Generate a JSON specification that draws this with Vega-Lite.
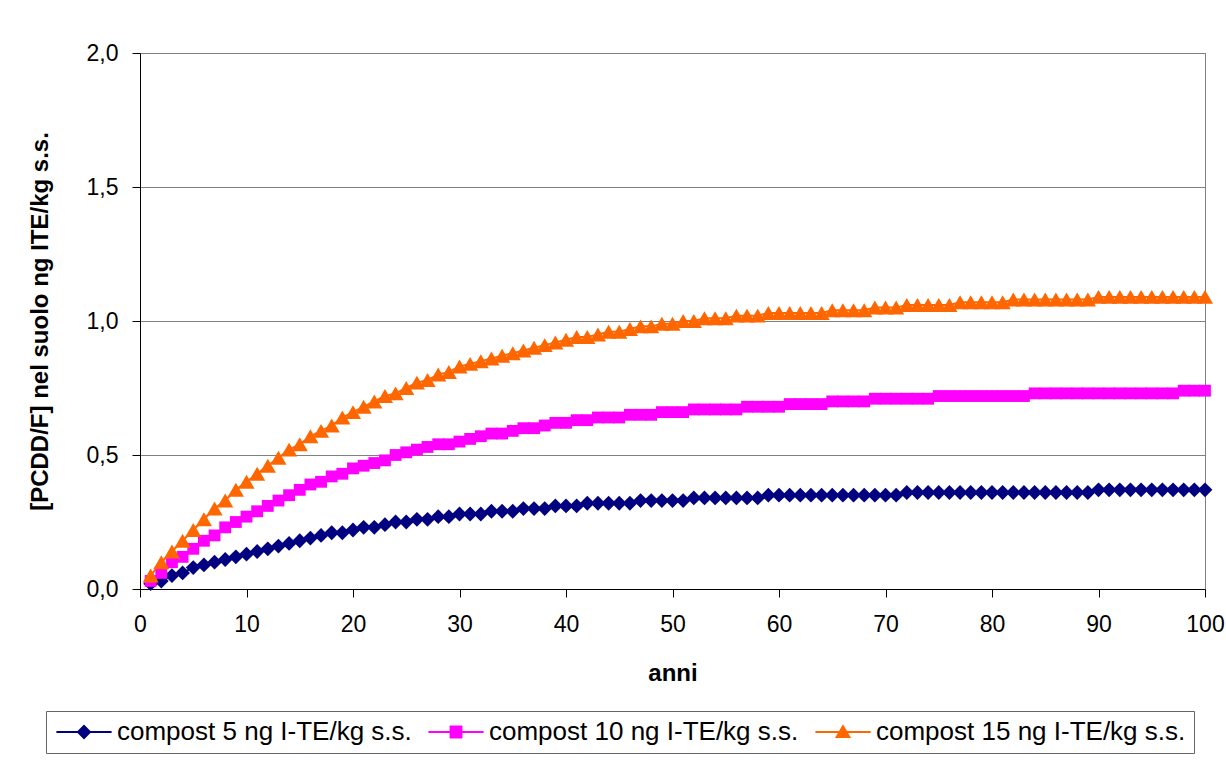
{
  "$schema": "https://vega.github.io/schema/vega-lite/v6.json",
  "width": 1065,
  "height": 536,
  "autosize": {"type": "none"},
  "padding": {"left": 140, "top": 53, "right": 21, "bottom": 171},
  "background": "white",
  "config": {"font": "Liberation Sans", "view": {"stroke": "#808080", "strokeWidth": 1}},
  "data": {"values": [
    {"anni":1,"serie":"compost 5 ng I-TE/kg s.s.","valore":0.02},
    {"anni":2,"serie":"compost 5 ng I-TE/kg s.s.","valore":0.03},
    {"anni":3,"serie":"compost 5 ng I-TE/kg s.s.","valore":0.05},
    {"anni":4,"serie":"compost 5 ng I-TE/kg s.s.","valore":0.06},
    {"anni":5,"serie":"compost 5 ng I-TE/kg s.s.","valore":0.08},
    {"anni":6,"serie":"compost 5 ng I-TE/kg s.s.","valore":0.09},
    {"anni":7,"serie":"compost 5 ng I-TE/kg s.s.","valore":0.10},
    {"anni":8,"serie":"compost 5 ng I-TE/kg s.s.","valore":0.11},
    {"anni":9,"serie":"compost 5 ng I-TE/kg s.s.","valore":0.12},
    {"anni":10,"serie":"compost 5 ng I-TE/kg s.s.","valore":0.13},
    {"anni":11,"serie":"compost 5 ng I-TE/kg s.s.","valore":0.14},
    {"anni":12,"serie":"compost 5 ng I-TE/kg s.s.","valore":0.15},
    {"anni":13,"serie":"compost 5 ng I-TE/kg s.s.","valore":0.16},
    {"anni":14,"serie":"compost 5 ng I-TE/kg s.s.","valore":0.17},
    {"anni":15,"serie":"compost 5 ng I-TE/kg s.s.","valore":0.18},
    {"anni":16,"serie":"compost 5 ng I-TE/kg s.s.","valore":0.19},
    {"anni":17,"serie":"compost 5 ng I-TE/kg s.s.","valore":0.20},
    {"anni":18,"serie":"compost 5 ng I-TE/kg s.s.","valore":0.21},
    {"anni":19,"serie":"compost 5 ng I-TE/kg s.s.","valore":0.21},
    {"anni":20,"serie":"compost 5 ng I-TE/kg s.s.","valore":0.22},
    {"anni":21,"serie":"compost 5 ng I-TE/kg s.s.","valore":0.23},
    {"anni":22,"serie":"compost 5 ng I-TE/kg s.s.","valore":0.23},
    {"anni":23,"serie":"compost 5 ng I-TE/kg s.s.","valore":0.24},
    {"anni":24,"serie":"compost 5 ng I-TE/kg s.s.","valore":0.25},
    {"anni":25,"serie":"compost 5 ng I-TE/kg s.s.","valore":0.25},
    {"anni":26,"serie":"compost 5 ng I-TE/kg s.s.","valore":0.26},
    {"anni":27,"serie":"compost 5 ng I-TE/kg s.s.","valore":0.26},
    {"anni":28,"serie":"compost 5 ng I-TE/kg s.s.","valore":0.27},
    {"anni":29,"serie":"compost 5 ng I-TE/kg s.s.","valore":0.27},
    {"anni":30,"serie":"compost 5 ng I-TE/kg s.s.","valore":0.28},
    {"anni":31,"serie":"compost 5 ng I-TE/kg s.s.","valore":0.28},
    {"anni":32,"serie":"compost 5 ng I-TE/kg s.s.","valore":0.28},
    {"anni":33,"serie":"compost 5 ng I-TE/kg s.s.","valore":0.29},
    {"anni":34,"serie":"compost 5 ng I-TE/kg s.s.","valore":0.29},
    {"anni":35,"serie":"compost 5 ng I-TE/kg s.s.","valore":0.29},
    {"anni":36,"serie":"compost 5 ng I-TE/kg s.s.","valore":0.30},
    {"anni":37,"serie":"compost 5 ng I-TE/kg s.s.","valore":0.30},
    {"anni":38,"serie":"compost 5 ng I-TE/kg s.s.","valore":0.30},
    {"anni":39,"serie":"compost 5 ng I-TE/kg s.s.","valore":0.31},
    {"anni":40,"serie":"compost 5 ng I-TE/kg s.s.","valore":0.31},
    {"anni":41,"serie":"compost 5 ng I-TE/kg s.s.","valore":0.31},
    {"anni":42,"serie":"compost 5 ng I-TE/kg s.s.","valore":0.32},
    {"anni":43,"serie":"compost 5 ng I-TE/kg s.s.","valore":0.32},
    {"anni":44,"serie":"compost 5 ng I-TE/kg s.s.","valore":0.32},
    {"anni":45,"serie":"compost 5 ng I-TE/kg s.s.","valore":0.32},
    {"anni":46,"serie":"compost 5 ng I-TE/kg s.s.","valore":0.32},
    {"anni":47,"serie":"compost 5 ng I-TE/kg s.s.","valore":0.33},
    {"anni":48,"serie":"compost 5 ng I-TE/kg s.s.","valore":0.33},
    {"anni":49,"serie":"compost 5 ng I-TE/kg s.s.","valore":0.33},
    {"anni":50,"serie":"compost 5 ng I-TE/kg s.s.","valore":0.33},
    {"anni":51,"serie":"compost 5 ng I-TE/kg s.s.","valore":0.33},
    {"anni":52,"serie":"compost 5 ng I-TE/kg s.s.","valore":0.34},
    {"anni":53,"serie":"compost 5 ng I-TE/kg s.s.","valore":0.34},
    {"anni":54,"serie":"compost 5 ng I-TE/kg s.s.","valore":0.34},
    {"anni":55,"serie":"compost 5 ng I-TE/kg s.s.","valore":0.34},
    {"anni":56,"serie":"compost 5 ng I-TE/kg s.s.","valore":0.34},
    {"anni":57,"serie":"compost 5 ng I-TE/kg s.s.","valore":0.34},
    {"anni":58,"serie":"compost 5 ng I-TE/kg s.s.","valore":0.34},
    {"anni":59,"serie":"compost 5 ng I-TE/kg s.s.","valore":0.35},
    {"anni":60,"serie":"compost 5 ng I-TE/kg s.s.","valore":0.35},
    {"anni":61,"serie":"compost 5 ng I-TE/kg s.s.","valore":0.35},
    {"anni":62,"serie":"compost 5 ng I-TE/kg s.s.","valore":0.35},
    {"anni":63,"serie":"compost 5 ng I-TE/kg s.s.","valore":0.35},
    {"anni":64,"serie":"compost 5 ng I-TE/kg s.s.","valore":0.35},
    {"anni":65,"serie":"compost 5 ng I-TE/kg s.s.","valore":0.35},
    {"anni":66,"serie":"compost 5 ng I-TE/kg s.s.","valore":0.35},
    {"anni":67,"serie":"compost 5 ng I-TE/kg s.s.","valore":0.35},
    {"anni":68,"serie":"compost 5 ng I-TE/kg s.s.","valore":0.35},
    {"anni":69,"serie":"compost 5 ng I-TE/kg s.s.","valore":0.35},
    {"anni":70,"serie":"compost 5 ng I-TE/kg s.s.","valore":0.35},
    {"anni":71,"serie":"compost 5 ng I-TE/kg s.s.","valore":0.35},
    {"anni":72,"serie":"compost 5 ng I-TE/kg s.s.","valore":0.36},
    {"anni":73,"serie":"compost 5 ng I-TE/kg s.s.","valore":0.36},
    {"anni":74,"serie":"compost 5 ng I-TE/kg s.s.","valore":0.36},
    {"anni":75,"serie":"compost 5 ng I-TE/kg s.s.","valore":0.36},
    {"anni":76,"serie":"compost 5 ng I-TE/kg s.s.","valore":0.36},
    {"anni":77,"serie":"compost 5 ng I-TE/kg s.s.","valore":0.36},
    {"anni":78,"serie":"compost 5 ng I-TE/kg s.s.","valore":0.36},
    {"anni":79,"serie":"compost 5 ng I-TE/kg s.s.","valore":0.36},
    {"anni":80,"serie":"compost 5 ng I-TE/kg s.s.","valore":0.36},
    {"anni":81,"serie":"compost 5 ng I-TE/kg s.s.","valore":0.36},
    {"anni":82,"serie":"compost 5 ng I-TE/kg s.s.","valore":0.36},
    {"anni":83,"serie":"compost 5 ng I-TE/kg s.s.","valore":0.36},
    {"anni":84,"serie":"compost 5 ng I-TE/kg s.s.","valore":0.36},
    {"anni":85,"serie":"compost 5 ng I-TE/kg s.s.","valore":0.36},
    {"anni":86,"serie":"compost 5 ng I-TE/kg s.s.","valore":0.36},
    {"anni":87,"serie":"compost 5 ng I-TE/kg s.s.","valore":0.36},
    {"anni":88,"serie":"compost 5 ng I-TE/kg s.s.","valore":0.36},
    {"anni":89,"serie":"compost 5 ng I-TE/kg s.s.","valore":0.36},
    {"anni":90,"serie":"compost 5 ng I-TE/kg s.s.","valore":0.37},
    {"anni":91,"serie":"compost 5 ng I-TE/kg s.s.","valore":0.37},
    {"anni":92,"serie":"compost 5 ng I-TE/kg s.s.","valore":0.37},
    {"anni":93,"serie":"compost 5 ng I-TE/kg s.s.","valore":0.37},
    {"anni":94,"serie":"compost 5 ng I-TE/kg s.s.","valore":0.37},
    {"anni":95,"serie":"compost 5 ng I-TE/kg s.s.","valore":0.37},
    {"anni":96,"serie":"compost 5 ng I-TE/kg s.s.","valore":0.37},
    {"anni":97,"serie":"compost 5 ng I-TE/kg s.s.","valore":0.37},
    {"anni":98,"serie":"compost 5 ng I-TE/kg s.s.","valore":0.37},
    {"anni":99,"serie":"compost 5 ng I-TE/kg s.s.","valore":0.37},
    {"anni":100,"serie":"compost 5 ng I-TE/kg s.s.","valore":0.37},
    {"anni":1,"serie":"compost 10 ng I-TE/kg s.s.","valore":0.03},
    {"anni":2,"serie":"compost 10 ng I-TE/kg s.s.","valore":0.06},
    {"anni":3,"serie":"compost 10 ng I-TE/kg s.s.","valore":0.10},
    {"anni":4,"serie":"compost 10 ng I-TE/kg s.s.","valore":0.12},
    {"anni":5,"serie":"compost 10 ng I-TE/kg s.s.","valore":0.15},
    {"anni":6,"serie":"compost 10 ng I-TE/kg s.s.","valore":0.18},
    {"anni":7,"serie":"compost 10 ng I-TE/kg s.s.","valore":0.20},
    {"anni":8,"serie":"compost 10 ng I-TE/kg s.s.","valore":0.23},
    {"anni":9,"serie":"compost 10 ng I-TE/kg s.s.","valore":0.25},
    {"anni":10,"serie":"compost 10 ng I-TE/kg s.s.","valore":0.27},
    {"anni":11,"serie":"compost 10 ng I-TE/kg s.s.","valore":0.29},
    {"anni":12,"serie":"compost 10 ng I-TE/kg s.s.","valore":0.31},
    {"anni":13,"serie":"compost 10 ng I-TE/kg s.s.","valore":0.33},
    {"anni":14,"serie":"compost 10 ng I-TE/kg s.s.","valore":0.35},
    {"anni":15,"serie":"compost 10 ng I-TE/kg s.s.","valore":0.37},
    {"anni":16,"serie":"compost 10 ng I-TE/kg s.s.","valore":0.39},
    {"anni":17,"serie":"compost 10 ng I-TE/kg s.s.","valore":0.40},
    {"anni":18,"serie":"compost 10 ng I-TE/kg s.s.","valore":0.42},
    {"anni":19,"serie":"compost 10 ng I-TE/kg s.s.","valore":0.43},
    {"anni":20,"serie":"compost 10 ng I-TE/kg s.s.","valore":0.45},
    {"anni":21,"serie":"compost 10 ng I-TE/kg s.s.","valore":0.46},
    {"anni":22,"serie":"compost 10 ng I-TE/kg s.s.","valore":0.47},
    {"anni":23,"serie":"compost 10 ng I-TE/kg s.s.","valore":0.48},
    {"anni":24,"serie":"compost 10 ng I-TE/kg s.s.","valore":0.50},
    {"anni":25,"serie":"compost 10 ng I-TE/kg s.s.","valore":0.51},
    {"anni":26,"serie":"compost 10 ng I-TE/kg s.s.","valore":0.52},
    {"anni":27,"serie":"compost 10 ng I-TE/kg s.s.","valore":0.53},
    {"anni":28,"serie":"compost 10 ng I-TE/kg s.s.","valore":0.54},
    {"anni":29,"serie":"compost 10 ng I-TE/kg s.s.","valore":0.54},
    {"anni":30,"serie":"compost 10 ng I-TE/kg s.s.","valore":0.55},
    {"anni":31,"serie":"compost 10 ng I-TE/kg s.s.","valore":0.56},
    {"anni":32,"serie":"compost 10 ng I-TE/kg s.s.","valore":0.57},
    {"anni":33,"serie":"compost 10 ng I-TE/kg s.s.","valore":0.58},
    {"anni":34,"serie":"compost 10 ng I-TE/kg s.s.","valore":0.58},
    {"anni":35,"serie":"compost 10 ng I-TE/kg s.s.","valore":0.59},
    {"anni":36,"serie":"compost 10 ng I-TE/kg s.s.","valore":0.60},
    {"anni":37,"serie":"compost 10 ng I-TE/kg s.s.","valore":0.60},
    {"anni":38,"serie":"compost 10 ng I-TE/kg s.s.","valore":0.61},
    {"anni":39,"serie":"compost 10 ng I-TE/kg s.s.","valore":0.62},
    {"anni":40,"serie":"compost 10 ng I-TE/kg s.s.","valore":0.62},
    {"anni":41,"serie":"compost 10 ng I-TE/kg s.s.","valore":0.63},
    {"anni":42,"serie":"compost 10 ng I-TE/kg s.s.","valore":0.63},
    {"anni":43,"serie":"compost 10 ng I-TE/kg s.s.","valore":0.64},
    {"anni":44,"serie":"compost 10 ng I-TE/kg s.s.","valore":0.64},
    {"anni":45,"serie":"compost 10 ng I-TE/kg s.s.","valore":0.64},
    {"anni":46,"serie":"compost 10 ng I-TE/kg s.s.","valore":0.65},
    {"anni":47,"serie":"compost 10 ng I-TE/kg s.s.","valore":0.65},
    {"anni":48,"serie":"compost 10 ng I-TE/kg s.s.","valore":0.65},
    {"anni":49,"serie":"compost 10 ng I-TE/kg s.s.","valore":0.66},
    {"anni":50,"serie":"compost 10 ng I-TE/kg s.s.","valore":0.66},
    {"anni":51,"serie":"compost 10 ng I-TE/kg s.s.","valore":0.66},
    {"anni":52,"serie":"compost 10 ng I-TE/kg s.s.","valore":0.67},
    {"anni":53,"serie":"compost 10 ng I-TE/kg s.s.","valore":0.67},
    {"anni":54,"serie":"compost 10 ng I-TE/kg s.s.","valore":0.67},
    {"anni":55,"serie":"compost 10 ng I-TE/kg s.s.","valore":0.67},
    {"anni":56,"serie":"compost 10 ng I-TE/kg s.s.","valore":0.67},
    {"anni":57,"serie":"compost 10 ng I-TE/kg s.s.","valore":0.68},
    {"anni":58,"serie":"compost 10 ng I-TE/kg s.s.","valore":0.68},
    {"anni":59,"serie":"compost 10 ng I-TE/kg s.s.","valore":0.68},
    {"anni":60,"serie":"compost 10 ng I-TE/kg s.s.","valore":0.68},
    {"anni":61,"serie":"compost 10 ng I-TE/kg s.s.","valore":0.69},
    {"anni":62,"serie":"compost 10 ng I-TE/kg s.s.","valore":0.69},
    {"anni":63,"serie":"compost 10 ng I-TE/kg s.s.","valore":0.69},
    {"anni":64,"serie":"compost 10 ng I-TE/kg s.s.","valore":0.69},
    {"anni":65,"serie":"compost 10 ng I-TE/kg s.s.","valore":0.70},
    {"anni":66,"serie":"compost 10 ng I-TE/kg s.s.","valore":0.70},
    {"anni":67,"serie":"compost 10 ng I-TE/kg s.s.","valore":0.70},
    {"anni":68,"serie":"compost 10 ng I-TE/kg s.s.","valore":0.70},
    {"anni":69,"serie":"compost 10 ng I-TE/kg s.s.","valore":0.71},
    {"anni":70,"serie":"compost 10 ng I-TE/kg s.s.","valore":0.71},
    {"anni":71,"serie":"compost 10 ng I-TE/kg s.s.","valore":0.71},
    {"anni":72,"serie":"compost 10 ng I-TE/kg s.s.","valore":0.71},
    {"anni":73,"serie":"compost 10 ng I-TE/kg s.s.","valore":0.71},
    {"anni":74,"serie":"compost 10 ng I-TE/kg s.s.","valore":0.71},
    {"anni":75,"serie":"compost 10 ng I-TE/kg s.s.","valore":0.72},
    {"anni":76,"serie":"compost 10 ng I-TE/kg s.s.","valore":0.72},
    {"anni":77,"serie":"compost 10 ng I-TE/kg s.s.","valore":0.72},
    {"anni":78,"serie":"compost 10 ng I-TE/kg s.s.","valore":0.72},
    {"anni":79,"serie":"compost 10 ng I-TE/kg s.s.","valore":0.72},
    {"anni":80,"serie":"compost 10 ng I-TE/kg s.s.","valore":0.72},
    {"anni":81,"serie":"compost 10 ng I-TE/kg s.s.","valore":0.72},
    {"anni":82,"serie":"compost 10 ng I-TE/kg s.s.","valore":0.72},
    {"anni":83,"serie":"compost 10 ng I-TE/kg s.s.","valore":0.72},
    {"anni":84,"serie":"compost 10 ng I-TE/kg s.s.","valore":0.73},
    {"anni":85,"serie":"compost 10 ng I-TE/kg s.s.","valore":0.73},
    {"anni":86,"serie":"compost 10 ng I-TE/kg s.s.","valore":0.73},
    {"anni":87,"serie":"compost 10 ng I-TE/kg s.s.","valore":0.73},
    {"anni":88,"serie":"compost 10 ng I-TE/kg s.s.","valore":0.73},
    {"anni":89,"serie":"compost 10 ng I-TE/kg s.s.","valore":0.73},
    {"anni":90,"serie":"compost 10 ng I-TE/kg s.s.","valore":0.73},
    {"anni":91,"serie":"compost 10 ng I-TE/kg s.s.","valore":0.73},
    {"anni":92,"serie":"compost 10 ng I-TE/kg s.s.","valore":0.73},
    {"anni":93,"serie":"compost 10 ng I-TE/kg s.s.","valore":0.73},
    {"anni":94,"serie":"compost 10 ng I-TE/kg s.s.","valore":0.73},
    {"anni":95,"serie":"compost 10 ng I-TE/kg s.s.","valore":0.73},
    {"anni":96,"serie":"compost 10 ng I-TE/kg s.s.","valore":0.73},
    {"anni":97,"serie":"compost 10 ng I-TE/kg s.s.","valore":0.73},
    {"anni":98,"serie":"compost 10 ng I-TE/kg s.s.","valore":0.74},
    {"anni":99,"serie":"compost 10 ng I-TE/kg s.s.","valore":0.74},
    {"anni":100,"serie":"compost 10 ng I-TE/kg s.s.","valore":0.74},
    {"anni":1,"serie":"compost 15 ng I-TE/kg s.s.","valore":0.05},
    {"anni":2,"serie":"compost 15 ng I-TE/kg s.s.","valore":0.10},
    {"anni":3,"serie":"compost 15 ng I-TE/kg s.s.","valore":0.14},
    {"anni":4,"serie":"compost 15 ng I-TE/kg s.s.","valore":0.18},
    {"anni":5,"serie":"compost 15 ng I-TE/kg s.s.","valore":0.22},
    {"anni":6,"serie":"compost 15 ng I-TE/kg s.s.","valore":0.26},
    {"anni":7,"serie":"compost 15 ng I-TE/kg s.s.","valore":0.30},
    {"anni":8,"serie":"compost 15 ng I-TE/kg s.s.","valore":0.33},
    {"anni":9,"serie":"compost 15 ng I-TE/kg s.s.","valore":0.37},
    {"anni":10,"serie":"compost 15 ng I-TE/kg s.s.","valore":0.40},
    {"anni":11,"serie":"compost 15 ng I-TE/kg s.s.","valore":0.43},
    {"anni":12,"serie":"compost 15 ng I-TE/kg s.s.","valore":0.46},
    {"anni":13,"serie":"compost 15 ng I-TE/kg s.s.","valore":0.49},
    {"anni":14,"serie":"compost 15 ng I-TE/kg s.s.","valore":0.52},
    {"anni":15,"serie":"compost 15 ng I-TE/kg s.s.","valore":0.54},
    {"anni":16,"serie":"compost 15 ng I-TE/kg s.s.","valore":0.57},
    {"anni":17,"serie":"compost 15 ng I-TE/kg s.s.","valore":0.59},
    {"anni":18,"serie":"compost 15 ng I-TE/kg s.s.","valore":0.61},
    {"anni":19,"serie":"compost 15 ng I-TE/kg s.s.","valore":0.64},
    {"anni":20,"serie":"compost 15 ng I-TE/kg s.s.","valore":0.66},
    {"anni":21,"serie":"compost 15 ng I-TE/kg s.s.","valore":0.68},
    {"anni":22,"serie":"compost 15 ng I-TE/kg s.s.","valore":0.70},
    {"anni":23,"serie":"compost 15 ng I-TE/kg s.s.","valore":0.72},
    {"anni":24,"serie":"compost 15 ng I-TE/kg s.s.","valore":0.73},
    {"anni":25,"serie":"compost 15 ng I-TE/kg s.s.","valore":0.75},
    {"anni":26,"serie":"compost 15 ng I-TE/kg s.s.","valore":0.77},
    {"anni":27,"serie":"compost 15 ng I-TE/kg s.s.","valore":0.78},
    {"anni":28,"serie":"compost 15 ng I-TE/kg s.s.","valore":0.80},
    {"anni":29,"serie":"compost 15 ng I-TE/kg s.s.","valore":0.81},
    {"anni":30,"serie":"compost 15 ng I-TE/kg s.s.","valore":0.83},
    {"anni":31,"serie":"compost 15 ng I-TE/kg s.s.","valore":0.84},
    {"anni":32,"serie":"compost 15 ng I-TE/kg s.s.","valore":0.85},
    {"anni":33,"serie":"compost 15 ng I-TE/kg s.s.","valore":0.86},
    {"anni":34,"serie":"compost 15 ng I-TE/kg s.s.","valore":0.87},
    {"anni":35,"serie":"compost 15 ng I-TE/kg s.s.","valore":0.88},
    {"anni":36,"serie":"compost 15 ng I-TE/kg s.s.","valore":0.89},
    {"anni":37,"serie":"compost 15 ng I-TE/kg s.s.","valore":0.90},
    {"anni":38,"serie":"compost 15 ng I-TE/kg s.s.","valore":0.91},
    {"anni":39,"serie":"compost 15 ng I-TE/kg s.s.","valore":0.92},
    {"anni":40,"serie":"compost 15 ng I-TE/kg s.s.","valore":0.93},
    {"anni":41,"serie":"compost 15 ng I-TE/kg s.s.","valore":0.94},
    {"anni":42,"serie":"compost 15 ng I-TE/kg s.s.","valore":0.94},
    {"anni":43,"serie":"compost 15 ng I-TE/kg s.s.","valore":0.95},
    {"anni":44,"serie":"compost 15 ng I-TE/kg s.s.","valore":0.96},
    {"anni":45,"serie":"compost 15 ng I-TE/kg s.s.","valore":0.96},
    {"anni":46,"serie":"compost 15 ng I-TE/kg s.s.","valore":0.97},
    {"anni":47,"serie":"compost 15 ng I-TE/kg s.s.","valore":0.98},
    {"anni":48,"serie":"compost 15 ng I-TE/kg s.s.","valore":0.98},
    {"anni":49,"serie":"compost 15 ng I-TE/kg s.s.","valore":0.99},
    {"anni":50,"serie":"compost 15 ng I-TE/kg s.s.","valore":0.99},
    {"anni":51,"serie":"compost 15 ng I-TE/kg s.s.","valore":1.00},
    {"anni":52,"serie":"compost 15 ng I-TE/kg s.s.","valore":1.00},
    {"anni":53,"serie":"compost 15 ng I-TE/kg s.s.","valore":1.01},
    {"anni":54,"serie":"compost 15 ng I-TE/kg s.s.","valore":1.01},
    {"anni":55,"serie":"compost 15 ng I-TE/kg s.s.","valore":1.01},
    {"anni":56,"serie":"compost 15 ng I-TE/kg s.s.","valore":1.02},
    {"anni":57,"serie":"compost 15 ng I-TE/kg s.s.","valore":1.02},
    {"anni":58,"serie":"compost 15 ng I-TE/kg s.s.","valore":1.02},
    {"anni":59,"serie":"compost 15 ng I-TE/kg s.s.","valore":1.03},
    {"anni":60,"serie":"compost 15 ng I-TE/kg s.s.","valore":1.03},
    {"anni":61,"serie":"compost 15 ng I-TE/kg s.s.","valore":1.03},
    {"anni":62,"serie":"compost 15 ng I-TE/kg s.s.","valore":1.03},
    {"anni":63,"serie":"compost 15 ng I-TE/kg s.s.","valore":1.03},
    {"anni":64,"serie":"compost 15 ng I-TE/kg s.s.","valore":1.03},
    {"anni":65,"serie":"compost 15 ng I-TE/kg s.s.","valore":1.04},
    {"anni":66,"serie":"compost 15 ng I-TE/kg s.s.","valore":1.04},
    {"anni":67,"serie":"compost 15 ng I-TE/kg s.s.","valore":1.04},
    {"anni":68,"serie":"compost 15 ng I-TE/kg s.s.","valore":1.04},
    {"anni":69,"serie":"compost 15 ng I-TE/kg s.s.","valore":1.05},
    {"anni":70,"serie":"compost 15 ng I-TE/kg s.s.","valore":1.05},
    {"anni":71,"serie":"compost 15 ng I-TE/kg s.s.","valore":1.05},
    {"anni":72,"serie":"compost 15 ng I-TE/kg s.s.","valore":1.06},
    {"anni":73,"serie":"compost 15 ng I-TE/kg s.s.","valore":1.06},
    {"anni":74,"serie":"compost 15 ng I-TE/kg s.s.","valore":1.06},
    {"anni":75,"serie":"compost 15 ng I-TE/kg s.s.","valore":1.06},
    {"anni":76,"serie":"compost 15 ng I-TE/kg s.s.","valore":1.06},
    {"anni":77,"serie":"compost 15 ng I-TE/kg s.s.","valore":1.07},
    {"anni":78,"serie":"compost 15 ng I-TE/kg s.s.","valore":1.07},
    {"anni":79,"serie":"compost 15 ng I-TE/kg s.s.","valore":1.07},
    {"anni":80,"serie":"compost 15 ng I-TE/kg s.s.","valore":1.07},
    {"anni":81,"serie":"compost 15 ng I-TE/kg s.s.","valore":1.07},
    {"anni":82,"serie":"compost 15 ng I-TE/kg s.s.","valore":1.08},
    {"anni":83,"serie":"compost 15 ng I-TE/kg s.s.","valore":1.08},
    {"anni":84,"serie":"compost 15 ng I-TE/kg s.s.","valore":1.08},
    {"anni":85,"serie":"compost 15 ng I-TE/kg s.s.","valore":1.08},
    {"anni":86,"serie":"compost 15 ng I-TE/kg s.s.","valore":1.08},
    {"anni":87,"serie":"compost 15 ng I-TE/kg s.s.","valore":1.08},
    {"anni":88,"serie":"compost 15 ng I-TE/kg s.s.","valore":1.08},
    {"anni":89,"serie":"compost 15 ng I-TE/kg s.s.","valore":1.08},
    {"anni":90,"serie":"compost 15 ng I-TE/kg s.s.","valore":1.09},
    {"anni":91,"serie":"compost 15 ng I-TE/kg s.s.","valore":1.09},
    {"anni":92,"serie":"compost 15 ng I-TE/kg s.s.","valore":1.09},
    {"anni":93,"serie":"compost 15 ng I-TE/kg s.s.","valore":1.09},
    {"anni":94,"serie":"compost 15 ng I-TE/kg s.s.","valore":1.09},
    {"anni":95,"serie":"compost 15 ng I-TE/kg s.s.","valore":1.09},
    {"anni":96,"serie":"compost 15 ng I-TE/kg s.s.","valore":1.09},
    {"anni":97,"serie":"compost 15 ng I-TE/kg s.s.","valore":1.09},
    {"anni":98,"serie":"compost 15 ng I-TE/kg s.s.","valore":1.09},
    {"anni":99,"serie":"compost 15 ng I-TE/kg s.s.","valore":1.09},
    {"anni":100,"serie":"compost 15 ng I-TE/kg s.s.","valore":1.09}
  ]},
  "encoding": {
    "x": {
      "field": "anni", "type": "quantitative",
      "scale": {"domain": [0, 100], "nice": false},
      "axis": {
        "values": [0, 10, 20, 30, 40, 50, 60, 70, 80, 90, 100],
        "format": "d", "title": "anni", "grid": false,
        "domainColor": "black", "tickColor": "black", "tickSize": 8,
        "labelPadding": 16, "labelFontSize": 23, "labelColor": "black", "labelFlush": false,
        "titleFontSize": 24, "titleFontWeight": "bold", "titleColor": "black",
        "titleY": 91, "titleBaseline": "alphabetic"
      }
    },
    "y": {
      "field": "valore", "type": "quantitative",
      "scale": {"domain": [0, 2], "nice": false},
      "axis": {
        "values": [0, 0.5, 1, 1.5, 2],
        "format": ".1f", "labelExpr": "replace(datum.label, '.', ',')",
        "title": "[PCDD/F] nel suolo ng ITE/kg s.s.",
        "grid": true, "gridColor": "#808080",
        "domainColor": "black", "tickColor": "black", "tickSize": 8,
        "labelPadding": 14, "labelFontSize": 23, "labelColor": "black",
        "titleFontSize": 24, "titleFontWeight": "bold", "titleColor": "black",
        "titleAngle": -90, "titleX": -100, "titleY": 268,
        "titleAlign": "center", "titleBaseline": "middle"
      }
    },
    "color": {
      "field": "serie", "type": "nominal",
      "scale": {
        "domain": ["compost 5 ng I-TE/kg s.s.", "compost 10 ng I-TE/kg s.s.", "compost 15 ng I-TE/kg s.s."],
        "range": ["#000080", "#FF00FF", "#FF6600"]
      },
      "legend": {
        "orient": "none", "legendX": -94, "legendY": 658,
        "direction": "horizontal", "columns": 3, "title": null,
        "strokeColor": "#666666", "padding": 8, "columnPadding": 12,
        "symbolSize": 144, "symbolOffset": 17, "labelOffset": 20,
        "labelFontSize": 26, "labelColor": "black", "labelLimit": 600,
        "symbolStrokeWidth": 2,
        "encode": {
          "symbols": {
            "update": {
              "shape": {"signal": "datum.value === 'compost 5 ng I-TE/kg s.s.' ? 'M-4.6,0H4.6M0,-1L1,0L0,1L-1,0Z' : datum.value === 'compost 10 ng I-TE/kg s.s.' ? 'M-4.6,0H4.6M-0.9,-0.9H0.9V0.9H-0.9Z' : 'M-4.6,0H4.6M0,-0.95L1.05,0.85L-1.05,0.85Z'"},
              "fill": {"scale": "color", "field": "value"},
              "stroke": {"scale": "color", "field": "value"},
              "strokeWidth": {"value": 2},
              "opacity": {"value": 1}
            }
          }
        }
      }
    }
  },
  "layer": [
    {"mark": {"type": "line", "strokeWidth": 2}},
    {
      "transform": [{"filter": "datum.serie === 'compost 5 ng I-TE/kg s.s.'"}],
      "mark": {"type": "point", "filled": true, "opacity": 1, "size": 220, "shape": "diamond"}
    },
    {
      "transform": [{"filter": "datum.serie === 'compost 10 ng I-TE/kg s.s.'"}],
      "mark": {"type": "point", "filled": true, "opacity": 1, "size": 140, "shape": "square"}
    },
    {
      "transform": [{"filter": "datum.serie === 'compost 15 ng I-TE/kg s.s.'"}],
      "mark": {"type": "point", "filled": true, "opacity": 1, "size": 260, "shape": "triangle-up"}
    }
  ]
}
